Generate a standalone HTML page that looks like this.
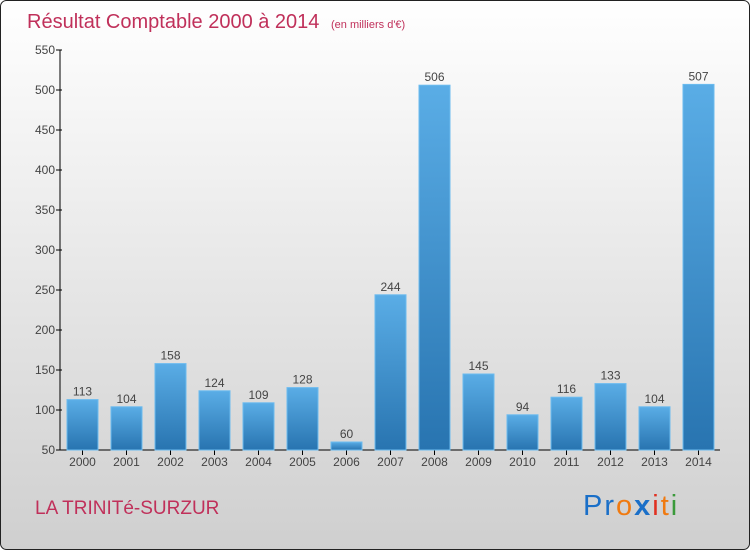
<!DOCTYPE html>
<html><head><meta charset="utf-8"><style>
body{margin:0;width:750px;height:550px;overflow:hidden;font-family:"Liberation Sans",sans-serif}
</style></head><body>
<svg id="chart" width="750" height="550" xmlns="http://www.w3.org/2000/svg">
<defs>
<linearGradient id="bg" x1="0" y1="0" x2="0" y2="1"><stop offset="0" stop-color="#ffffff"/><stop offset="1" stop-color="#cfcfcf"/></linearGradient>
<linearGradient id="bar" x1="0" y1="0" x2="0" y2="1"><stop offset="0" stop-color="#5aade6"/><stop offset="1" stop-color="#2874b0"/></linearGradient>
</defs>
<rect x="0.5" y="0.5" width="749" height="549" rx="6" fill="url(#bg)" stroke="#222"/>
<text x="27" y="28" font-size="20" fill="#c0305a">Résultat Comptable 2000 à 2014 <tspan font-size="11" dx="6">(en milliers d'€)</tspan></text>
<g id="axes"></g><g id="bars"></g>
<text x="35" y="514" font-size="19" fill="#c0305a">LA TRINITé-SURZUR</text>
<text x="583" y="515" font-size="29" letter-spacing="2"><tspan fill="#1a6fc8">Pr</tspan><tspan fill="#f07a10">o</tspan><tspan fill="#1a6fc8" font-weight="bold">x</tspan><tspan fill="#e03020">i</tspan><tspan fill="#f07a10">t</tspan><tspan fill="#3a9a3a">i</tspan></text>
</svg>
<script>
const years=["2000","2001","2002","2003","2004","2005","2006","2007","2008","2009","2010","2011","2012","2013","2014"];
const values=[113,104,158,124,109,128,60,244,506,145,94,116,133,104,507];
const yTicks=[50,100,150,200,250,300,350,400,450,500,550];
const NS="http://www.w3.org/2000/svg";
const y=v=>450-(v-50)*0.8;
const x=i=>82.5+i*44;
const ax=document.getElementById('axes'),bs=document.getElementById('bars');
function mk(tag,at,parent,txt){const e=document.createElementNS(NS,tag);for(const k in at)e.setAttribute(k,at[k]);if(txt!=null)e.textContent=txt;parent.appendChild(e);return e;}
let l=mk('line',{x1:60,y1:50,x2:60,y2:450,stroke:'#000'},ax);


l=mk('line',{x1:60,y1:450,x2:720,y2:450,stroke:'#000'},ax);


yTicks.forEach(t=>{
 let k=mk('line',{x1:56,y1:y(t),x2:62,y2:y(t),stroke:'#000'},ax);
 
 
 let tx=mk('text',{x:55,y:y(t)+4,'text-anchor':'end','font-size':12,fill:'#444'},ax,t);
 
 
});
years.forEach((yr,i)=>{
 const v=values[i];
 let r=mk('rect',{x:x(i)-15.5,y:y(v),width:31,height:450-y(v),fill:'url(#bar)',stroke:'#6bbbef','stroke-width':1},bs);
 
 
 let vl=mk('text',{x:x(i),y:y(v)-4,'text-anchor':'middle','font-size':12,fill:'#444'},bs,v);
 
 
 let k=mk('line',{x1:x(i),y1:450,x2:x(i),y2:455,stroke:'#000'},ax);
 
 
 let xl=mk('text',{x:x(i),y:466,'text-anchor':'middle','font-size':12,fill:'#444'},ax,yr);
 
 
});
</script>
</body></html>
